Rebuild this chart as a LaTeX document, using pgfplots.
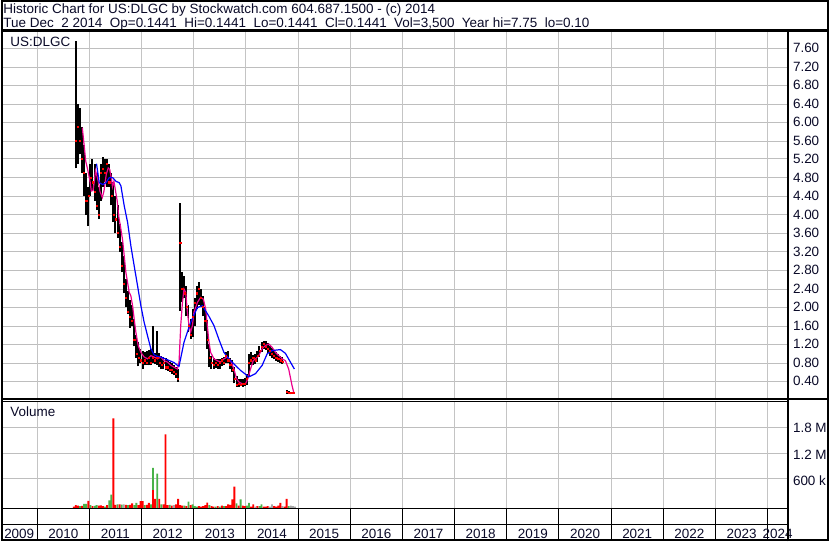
\documentclass[border=0pt]{standalone}
\usepackage{fontspec}
\setmainfont{Liberation Sans}
\usepackage{pgfplots}
\usepackage{pgfplotstable}
\pgfplotsset{compat=1.18}
\definecolor{gridg}{RGB}{196,196,196}
\definecolor{gridh}{RGB}{190,190,190}
\definecolor{vgreen}{RGB}{72,178,72}
\definecolor{vgrey}{RGB}{165,165,165}
\definecolor{txt}{RGB}{10,10,40}
\newcommand\cf{\fontsize{13.5bp}{16bp}\selectfont}

\pgfplotstableread{
x hi lo cl
2010.74 7.75 5.00 5.6
2010.78 6.40 5.10 5.9
2010.82 6.30 5.30 5.6
2010.86 5.90 4.90 5.2
2010.90 5.50 4.40 4.9
2010.94 4.90 4.00 4.3
2010.98 4.60 3.75 4.4
2011.02 5.10 4.40 4.8
2011.06 5.20 4.50 4.7
2011.10 5.10 4.30 4.5
2011.14 4.90 4.10 4.2
2011.18 4.60 3.90 4.0
2011.22 5.10 4.30 4.9
2011.26 5.25 4.60 5.0
2011.30 5.20 4.70 4.9
2011.34 5.20 4.60 5.1
2011.38 5.10 4.60 4.7
2011.42 4.90 4.20 4.4
2011.46 4.70 3.85 4.0
2011.50 4.40 3.60 3.9
2011.54 4.20 3.50 3.6
2011.58 3.80 3.20 3.3
2011.62 3.40 2.75 2.9
2011.66 3.10 2.30 2.5
2011.70 2.60 2.00 2.2
2011.74 2.35 1.85 1.9
2011.78 2.15 1.55 1.8
2011.82 2.05 1.60 1.7
2011.86 1.75 1.15 1.3
2011.90 1.40 0.90 1.0
2011.94 1.25 0.72 0.9
2011.98 1.10 0.80 0.85
2012.02 1.05 0.66 0.8
2012.06 1.03 0.74 0.85
2012.10 1.05 0.75 0.8
2012.14 1.08 0.74 0.9
2012.18 1.10 0.74 0.8
2012.22 1.60 0.78 0.9
2012.26 1.00 0.76 0.85
2012.30 1.49 0.75 0.9
2012.34 1.00 0.70 0.8
2012.38 0.95 0.66 0.75
2012.42 0.92 0.66 0.8
2012.46 0.90 0.63 0.7
2012.50 0.86 0.62 0.7
2012.54 0.82 0.60 0.65
2012.58 0.78 0.56 0.65
2012.62 0.74 0.52 0.6
2012.66 0.70 0.47 0.55
2012.70 0.66 0.38 0.45
2012.74 4.26 1.92 3.4
2012.78 2.75 2.10 2.4
2012.82 2.68 2.20 2.3
2012.86 2.45 1.80 2.0
2012.90 2.05 1.46 1.6
2012.94 1.75 1.31 1.4
2012.98 1.95 1.35 1.8
2013.02 2.20 1.60 2.1
2013.06 2.45 1.95 2.3
2013.10 2.54 2.05 2.4
2013.14 2.40 2.00 2.2
2013.18 2.25 1.80 2.0
2013.22 2.00 1.48 1.7
2013.26 1.72 1.10 1.3
2013.30 1.20 0.70 0.9
2013.34 0.95 0.66 0.8
2013.38 0.90 0.66 0.75
2013.42 0.88 0.68 0.8
2013.46 0.88 0.67 0.75
2013.50 0.88 0.66 0.8
2013.54 0.90 0.72 0.85
2013.58 0.93 0.74 0.8
2013.62 1.03 0.80 0.95
2013.66 1.06 0.78 0.85
2013.70 0.90 0.66 0.75
2013.74 0.85 0.60 0.65
2013.78 0.70 0.35 0.45
2013.82 0.50 0.28 0.32
2013.86 0.45 0.28 0.35
2013.90 0.45 0.29 0.32
2013.94 0.44 0.28 0.35
2013.98 0.46 0.30 0.34
2014.02 0.55 0.32 0.45
2014.06 0.98 0.50 0.8
2014.10 1.03 0.74 0.85
2014.14 0.97 0.74 0.9
2014.18 0.98 0.76 0.85
2014.22 1.05 0.82 0.95
2014.26 1.15 0.92 1.05
2014.30 1.24 1.02 1.15
2014.34 1.27 1.10 1.2
2014.38 1.27 1.08 1.15
2014.42 1.22 1.00 1.1
2014.46 1.16 0.95 1.05
2014.50 1.12 0.90 1.0
2014.54 1.08 0.87 0.95
2014.58 1.03 0.84 0.9
2014.62 0.98 0.82 0.88
2014.66 0.95 0.80 0.85
2014.70 0.92 0.77 0.82
2014.78 0.20 0.13 0.16
2014.82 0.18 0.12 0.15
2014.86 0.17 0.11 0.15
2014.90 0.16 0.12 0.14
2014.92 0.15 0.13 0.14
}\price

\pgfplotstableread{
x v
2010.70 30000
2010.74 60000
2010.78 50000
2010.86 45000
2010.98 160000
2011.06 40000
2011.18 50000
2011.22 55000
2011.26 40000
2011.34 60000
2011.46 2010000
2011.50 70000
2011.58 80000
2011.70 70000
2011.78 70000
2011.82 100000
2011.94 60000
2011.98 150000
2012.02 150000
2012.10 70000
2012.14 110000
2012.22 400000
2012.26 200000
2012.34 200000
2012.42 80000
2012.46 1650000
2012.50 60000
2012.58 50000
2012.66 80000
2012.70 200000
2012.74 60000
2012.78 50000
2012.86 40000
2012.94 60000
2013.10 40000
2013.14 30000
2013.18 40000
2013.22 60000
2013.26 120000
2013.34 40000
2013.38 30000
2013.46 40000
2013.54 50000
2013.62 40000
2013.66 80000
2013.70 70000
2013.74 190000
2013.78 480000
2013.86 50000
2013.94 50000
2013.98 40000
2014.10 30000
2014.14 80000
2014.22 40000
2014.34 30000
2014.38 30000
2014.42 40000
2014.54 40000
2014.58 30000
2014.62 50000
2014.66 110000
2014.74 30000
2014.78 200000
}\volred

\pgfplotstableread{
x v
2010.82 40000
2010.90 90000
2010.94 90000
2011.02 60000
2011.10 45000
2011.14 60000
2011.30 30000
2011.38 170000
2011.42 300000
2011.54 80000
2011.62 75000
2011.74 60000
2011.86 60000
2011.90 110000
2012.06 60000
2012.18 80000
2012.22 900000
2012.30 770000
2012.38 80000
2012.54 70000
2012.82 50000
2012.90 140000
2012.98 80000
2013.02 40000
2013.06 30000
2013.30 60000
2013.42 30000
2013.50 30000
2013.58 40000
2013.82 100000
2013.90 190000
2014.02 50000
2014.06 110000
2014.26 40000
2014.30 80000
2014.82 40000
}\volgreen

\pgfplotstableread{
x v
2011.66 80000
2012.62 60000
2014.18 30000
2014.46 30000
2014.50 80000
2014.70 40000
2014.86 50000
2014.90 40000
2014.94 30000
}\volgrey

\begin{document}
\begin{tikzpicture}
\begin{scope}[x=1bp,y=1bp]
\fill[white] (0,0) rectangle (830,543);
\node[anchor=base west, inner sep=0pt, txt] at (2,529) {\cf Historic Chart for US:DLGC by Stockwatch.com 604.687.1500 - (c) 2014};
\node[anchor=base west, inner sep=0pt, txt] at (2,515) {\cf Tue Dec\ \ 2 2014\ \ Op=0.1441\ \ Hi=0.1441\ \ Lo=0.1441\ \ Cl=0.1441\ \ Vol=3,500\ \ Year hi=7.75\ \ lo=0.10};
% horizontal grid lines, on whole pixel rows
\foreach \yy in {494.5,475.5,457.5,438.5,420.5,401.5,383.5,364.5,345.5,327.5,308.5,290.5,271.5,252.5,234.5,215.5,197.5,178.5,160.5,114.5,88.5,62.5} {
  \fill[gridh] (2,\yy-0.5) rectangle (788,\yy+0.5);
}
\end{scope}

% price panel
\begin{axis}[
  at={(0bp,142.2bp)}, anchor=south west, scale only axis,
  width=789bp, height=368.8bp,
  xmin=2009.3122, xmax=2024.3867, ymin=0, ymax=7.952,
  axis line style={draw=none}, major tick length=0pt,
  xtick={2010,2011,2012,2013,2014,2015,2016,2017,2018,2019,2020,2021,2022,2023,2024},
  xticklabels={},
  ytick={0.4,0.8,1.2,1.6,2.0,2.4,2.8,3.2,3.6,4.0,4.4,4.8,5.2,5.6,6.0,6.4,6.8,7.2,7.6},
  yticklabel pos=right,
  yticklabel={\pgfmathprintnumber[fixed,fixed zerofill,precision=2,assume math mode=true]{\tick}},
  yticklabel style={anchor=west, inner sep=0pt, xshift=5bp, font=\cf, text=txt},
  xmajorgrids, grid style={gridg, line width=1bp},
]
\addplot[draw=none, mark=none, forget plot,
  error bars/.cd, y dir=plus, y explicit, error mark=none,
  error bar style={draw=black, line width=2bp}]
  table[x=x, y=lo, y error expr=\thisrow{hi}-\thisrow{lo}] {\price};
\addplot[only marks, mark=square*, mark size=0.55bp, red, forget plot] table[x=x, y=cl] {\price};
\addplot[magenta, line width=1.2bp] coordinates {
(2010.865,5.88) (2010.898,5.52) (2010.930,5.16) (2010.974,4.94) (2011.013,4.72)
(2011.037,4.51) (2011.070,4.52) (2011.095,4.72) (2011.118,4.95) (2011.165,4.75)
(2011.204,4.50) (2011.248,4.37) (2011.280,4.51) (2011.324,4.87) (2011.362,5.01)
(2011.389,4.98) (2011.420,4.80) (2011.443,4.60) (2011.471,4.72) (2011.534,4.29)
(2011.567,3.93) (2011.595,3.75) (2011.637,3.45) (2011.668,3.11) (2011.700,2.75)
(2011.733,2.53) (2011.763,2.32) (2011.796,2.24) (2011.828,2.03) (2011.859,1.74)
(2011.891,1.46) (2011.935,1.17) (2011.987,1.02) (2012.050,0.92) (2012.115,0.88)
(2012.178,0.95) (2012.241,0.92) (2012.306,0.88) (2012.369,0.92) (2012.432,0.84)
(2012.497,0.81) (2012.560,0.74) (2012.623,0.70) (2012.688,0.66) (2012.719,0.81)
(2012.751,1.60) (2012.784,2.10) (2012.814,2.39) (2012.847,2.32) (2012.879,1.89)
(2012.910,1.60) (2012.942,1.46) (2012.975,1.60) (2013.005,1.89) (2013.070,2.10)
(2013.133,2.21) (2013.185,2.17) (2013.229,1.96) (2013.261,1.60) (2013.292,1.24)
(2013.324,1.02) (2013.388,0.88) (2013.453,0.84) (2013.516,0.81) (2013.579,0.88)
(2013.644,0.92) (2013.707,0.84) (2013.770,0.66) (2013.821,0.45) (2013.865,0.38)
(2013.930,0.34) (2013.993,0.34) (2014.037,0.45) (2014.089,0.66) (2014.140,0.84)
(2014.184,0.88) (2014.247,0.95) (2014.312,1.10) (2014.375,1.17) (2014.438,1.20)
(2014.503,1.13) (2014.566,1.02) (2014.629,0.95) (2014.694,0.88) (2014.757,0.84)
(2014.820,0.66) (2014.885,0.30) (2014.916,0.16)
};
\addplot[blue, line width=1.2bp] coordinates {
(2011.137,5.10) (2011.190,4.69) (2011.255,4.65) (2011.318,4.69) (2011.381,4.80)
(2011.446,4.80) (2011.509,4.72) (2011.572,4.69) (2011.605,4.62) (2011.668,4.19)
(2011.733,3.83) (2011.796,3.32) (2011.859,2.89) (2011.924,2.46) (2011.987,2.03)
(2012.050,1.67) (2012.115,1.38) (2012.178,1.10) (2012.241,0.97) (2012.306,0.93)
(2012.369,0.92) (2012.497,0.86) (2012.623,0.80) (2012.688,0.74) (2012.719,0.72)
(2012.814,1.24) (2012.942,1.67) (2013.070,1.99) (2013.166,2.03) (2013.292,1.80)
(2013.388,1.60) (2013.483,1.30) (2013.579,1.02) (2013.674,0.88) (2013.770,0.77)
(2013.898,0.63) (2014.057,0.49) (2014.184,0.56) (2014.312,0.74) (2014.408,0.99)
(2014.503,1.06) (2014.662,1.08) (2014.757,1.00) (2014.853,0.81) (2014.929,0.66)
};
\end{axis}

% volume panel
\begin{axis}[
  at={(0bp,33.5bp)}, anchor=south west, scale only axis,
  width=789bp, height=106.5bp,
  xmin=2009.3122, xmax=2024.3867, ymin=0, ymax=2381000,
  axis line style={draw=none}, major tick length=0pt,
  xtick={2010,2011,2012,2013,2014,2015,2016,2017,2018,2019,2020,2021,2022,2023,2024},
  xticklabels={},
  scaled y ticks=false,
  ytick={600000,1200000,1800000},
  yticklabels={600 k,1.2 M,1.8 M},
  yticklabel pos=right,
  yticklabel style={anchor=west, inner sep=0pt, xshift=5bp, font=\cf, text=txt},
  xmajorgrids, grid style={gridg, line width=1bp},
]
\addplot[ybar, bar width=0.036, bar shift=0pt, draw=none, fill=vgreen] table[x=x,y=v] {\volgreen};
\addplot[ybar, bar width=0.036, bar shift=0pt, draw=none, fill=vgrey] table[x=x,y=v] {\volgrey};
\addplot[ybar, bar width=0.036, bar shift=0pt, draw=none, fill=red] table[x=x,y=v] {\volred};
\end{axis}

% bottom year rows
\begin{axis}[
  at={(0bp,2bp)}, anchor=south west, scale only axis,
  width=789bp, height=31bp,
  xmin=2009.3122, xmax=2024.3867, ymin=0, ymax=2,
  axis line style={draw=none}, major tick length=0pt,
  xtick={2010,2011,2012,2013,2014,2015,2016,2017,2018,2019,2020,2021,2022,2023,2024},
  xticklabels={}, ytick=\empty,
  xmajorgrids, grid style={black, line width=1bp},
  clip=false,
]
\foreach \yr/\pos in {2009/2009.656,2010/2010.5,2011/2011.5,2012/2012.5,2013/2013.5,2014/2014.5,2015/2015.5,2016/2016.5,2017/2017.5,2018/2018.5,2019/2019.5,2020/2020.5,2021/2021.5,2022/2022.5,2023/2023.5,2024/2024.19}{
  \edef\tmp{\noexpand\node[anchor=base, inner sep=0pt, font=\noexpand\cf, text=txt] at (axis cs:\pos,0.065) {\yr};}\tmp
}
\end{axis}

\begin{scope}[x=1bp,y=1bp]
\draw[black, line width=1.5bp] (0,142.6) -- (830,142.6);
\draw[black, line width=0.9bp] (0,140.4) -- (789,140.4);
\draw[black, line width=1.8bp] (0,33) -- (789,33);
\draw[black, line width=1.8bp] (0,16.8) -- (789,16.8);
\draw[black, line width=2.2bp] (789,0) -- (789,512);
\draw[black, line width=2.6bp] (0,512.2) -- (830,512.2);
\draw[black, line width=2bp] (1,1) rectangle (829,542);
\node[anchor=base west, inner sep=0pt, txt] at (9,496) {\cf US:DLGC};
\node[anchor=base west, inner sep=0pt, txt] at (9,125) {\cf Volume};
\end{scope}
\end{tikzpicture}
\end{document}
